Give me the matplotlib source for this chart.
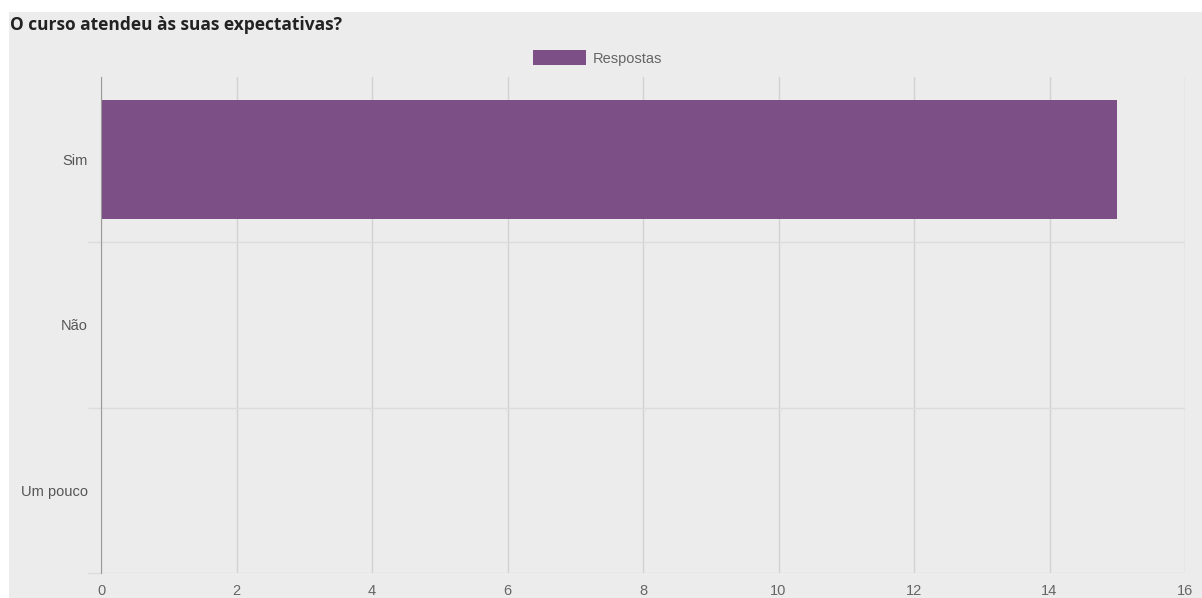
import matplotlib.pyplot as plt
from matplotlib.patches import Rectangle

# Data
categorias = ['Sim', 'Não', 'Um pouco']
respostas = [15, 0, 0]
serie_nome = 'Respostas'
titulo = 'O curso atendeu às suas expectativas?'

W, H = 1202, 598
fig = plt.figure(figsize=(W / 100, H / 100), dpi=100, facecolor='white')

# gray panel behind everything
fig.patches.append(Rectangle((9 / W, 0), 1 - 9 / W, 1 - 12 / H, transform=fig.transFigure,
                             facecolor='#ececec', edgecolor='none', zorder=-10))

left, right, top, bottom = 101, 1185, 77, 573
ax = fig.add_axes([left / W, 1 - bottom / H, (right - left) / W, (bottom - top) / H])
ax.set_facecolor('none')

pos = [i + 0.5 for i in range(len(categorias))]
ax.barh(pos, respostas, height=0.72, color='#7c4f86', label=serie_nome, zorder=3)

ax.set_xlim(0, 16)
ax.set_ylim(3, 0)
ax.set_xticks(range(0, 17, 2))
ax.xaxis.grid(True, color='#d2d2d2', linewidth=1)
ax.tick_params(axis='x', length=0, pad=8, labelsize=10.5, labelcolor='#666666')

# category boundaries as gridlines with a short tick to the left
ax.set_yticks([1, 2, 3])
ax.set_yticklabels([])
ax.tick_params(axis='y', which='major', length=9.4, color='#dcdcdc', width=1)
ax.yaxis.grid(True, which='major', color='#dcdcdc', linewidth=1)
ax.set_yticks(pos, minor=True)
ax.set_yticklabels(categorias, minor=True)
ax.tick_params(axis='y', which='minor', length=0, pad=9.4, labelsize=10.5, labelcolor='#555555')
for lab in ax.get_yticklabels(minor=True) + ax.get_xticklabels():
    lab.set_family('Liberation Sans')

for s in ['top', 'right', 'bottom']:
    ax.spines[s].set_visible(False)
ax.spines['left'].set_color('#9a9a9a')
ax.spines['left'].set_zorder(4)
ax.set_axisbelow(True)

fig.text(10 / W, 1 - 25 / H, titulo, fontsize=12.5, fontweight='bold', color='#222222',
         family='Open Sans', va='center', ha='left')

leg = fig.legend(loc='center', bbox_to_anchor=(598 / W, 1 - 58 / H), frameon=False,
                 handlelength=3.6, handleheight=1.2, handletextpad=0.5,
                 prop={'family': 'Liberation Sans', 'size': 10.5})
for t in leg.get_texts():
    t.set_color('#666666')

fig.savefig('out.png', dpi=100, facecolor='white')
